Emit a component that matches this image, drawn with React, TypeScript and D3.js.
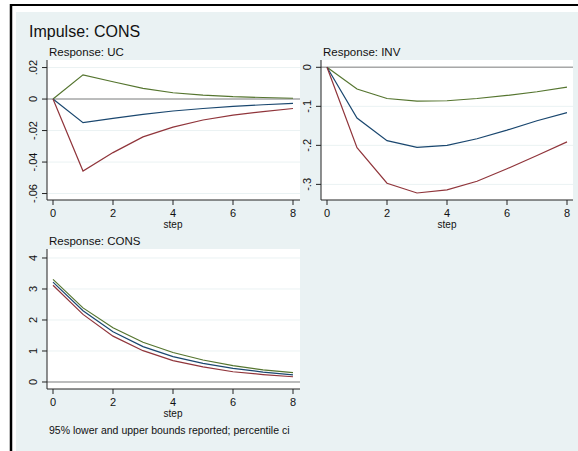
import React from "react";
import * as d3 from "d3";

const steps = [0, 1, 2, 3, 4, 5, 6, 7, 8];
const xTicks = [0, 2, 4, 6, 8];

const ucUpper = [0, 0.0154, 0.011, 0.0068, 0.004, 0.0025, 0.0015, 0.001, 0.0005];
const ucIrf = [0, -0.015, -0.0123, -0.0097, -0.0076, -0.006, -0.0047, -0.0036, -0.0027];
const ucLower = [0, -0.0457, -0.034, -0.024, -0.0178, -0.0133, -0.0102, -0.008, -0.006];
const ucTicks = [-0.06, -0.04, -0.02, 0, 0.02];
const ucTickLabels = ["-.06", "-.04", "-.02", "0", ".02"];

const invUpper = [0, -0.0557, -0.08, -0.0866, -0.0857, -0.08, -0.072, -0.0626, -0.051];
const invIrf = [0, -0.13, -0.188, -0.205, -0.2, -0.183, -0.161, -0.137, -0.116];
const invLower = [0, -0.206, -0.297, -0.322, -0.314, -0.292, -0.26, -0.226, -0.191];
const invTicks = [-0.3, -0.2, -0.1, 0];
const invTickLabels = ["-.3", "-.2", "-.1", "0"];

const consUpper = [3.31, 2.39, 1.75, 1.28, 0.95, 0.71, 0.53, 0.39, 0.3];
const consIrf = [3.22, 2.3, 1.62, 1.14, 0.82, 0.6, 0.44, 0.32, 0.23];
const consLower = [3.12, 2.18, 1.48, 1.01, 0.69, 0.49, 0.33, 0.24, 0.17];
const consTicks = [0, 1, 2, 3, 4];
const consTickLabels = ["0", "1", "2", "3", "4"];

const FONT = "'Liberation Sans', Arial, Helvetica, sans-serif";
const BG = "#eaf2f3";
const NAVY = "#1a476f";
const MAROON = "#90353b";
const GREEN = "#55752f";

type PanelProps = {
  title: string;
  left: number;
  top: number;
  width: number;
  height: number;
  yDomain: [number, number];
  ticks: number[];
  tickLabels: string[];
  upper: number[];
  irf: number[];
  lower: number[];
};

function Panel(p: PanelProps) {
  const x = d3.scaleLinear().domain([0, 8]).range([p.left + 6, p.left + 246]);
  const y = d3.scaleLinear().domain(p.yDomain).range([p.top + p.height, p.top]);
  const line = d3
    .line<number>()
    .x((_, i) => x(steps[i]))
    .y((d) => y(d));
  const bottom = p.top + p.height;
  return (
    <g>
      <text x={p.left + 2} y={p.top - 4} fontSize={11.5} fontFamily={FONT} fill="#111">
        {p.title}
      </text>
      <rect x={p.left} y={p.top} width={p.width} height={p.height} fill="#fff" />
      {p.ticks.map((t) => (
        <line key={"g" + t} x1={p.left} x2={p.left + p.width} y1={y(t)} y2={y(t)} stroke={BG} strokeWidth={1} />
      ))}
      <line x1={p.left} x2={p.left + p.width} y1={y(0)} y2={y(0)} stroke="#a8a8a8" strokeWidth={1.5} />
      <path d={line(p.upper) || ""} fill="none" stroke={GREEN} strokeWidth={1.2} />
      <path d={line(p.irf) || ""} fill="none" stroke={NAVY} strokeWidth={1.2} />
      <path d={line(p.lower) || ""} fill="none" stroke={MAROON} strokeWidth={1.2} />
      <line x1={p.left} x2={p.left} y1={p.top} y2={bottom} stroke="#222" strokeWidth={1} />
      <line x1={p.left} x2={p.left + p.width} y1={bottom} y2={bottom} stroke="#222" strokeWidth={1} />
      {p.ticks.map((t, i) => (
        <g key={"yt" + t}>
          <line x1={p.left - 5} x2={p.left} y1={y(t)} y2={y(t)} stroke="#222" strokeWidth={1} />
          <text
            transform={`translate(${p.left - 10},${y(t)}) rotate(-90)`}
            textAnchor="middle"
            fontSize={11}
            fontFamily={FONT}
            fill="#111"
          >
            {p.tickLabels[i]}
          </text>
        </g>
      ))}
      {xTicks.map((t) => (
        <g key={"xt" + t}>
          <line x1={x(t)} x2={x(t)} y1={bottom} y2={bottom + 5} stroke="#222" strokeWidth={1} />
          <text x={x(t)} y={bottom + 17} textAnchor="middle" fontSize={11} fontFamily={FONT} fill="#111">
            {t}
          </text>
        </g>
      ))}
      <text x={x(4)} y={bottom + 28} textAnchor="middle" fontSize={10} fontFamily={FONT} fill="#111">
        step
      </text>
    </g>
  );
}

export default function App() {
  return (
    <svg
      width={578}
      height={451}
      style={{ position: "absolute", left: 0, top: 0, background: "#fff" }}
    >
      <rect x={16} y={12} width={562} height={439} fill={BG} />
      <line x1={10} x2={578} y1={5} y2={5} stroke="#000" strokeWidth={2} />
      <line x1={11} x2={11} y1={4} y2={451} stroke="#000" strokeWidth={2.5} />
      <text x={29} y={37} fontSize={16} fontFamily={FONT} fill="#111">
        Impulse: CONS
      </text>
      <Panel
        title="Response: UC"
        left={47}
        top={60}
        width={253}
        height={140}
        yDomain={[-0.0641, 0.0248]}
        ticks={ucTicks}
        tickLabels={ucTickLabels}
        upper={ucUpper}
        irf={ucIrf}
        lower={ucLower}
      />
      <Panel
        title="Response: INV"
        left={321}
        top={60}
        width={252}
        height={140}
        yDomain={[-0.34, 0.0187]}
        ticks={invTicks}
        tickLabels={invTickLabels}
        upper={invUpper}
        irf={invIrf}
        lower={invLower}
      />
      <Panel
        title="Response: CONS"
        left={47}
        top={249}
        width={253}
        height={140}
        yDomain={[-0.226, 4.29]}
        ticks={consTicks}
        tickLabels={consTickLabels}
        upper={consUpper}
        irf={consIrf}
        lower={consLower}
      />
      <text x={49} y={434} fontSize={10.5} fontFamily={FONT} fill="#111">
        95% lower and upper bounds reported; percentile ci
      </text>
    </svg>
  );
}
